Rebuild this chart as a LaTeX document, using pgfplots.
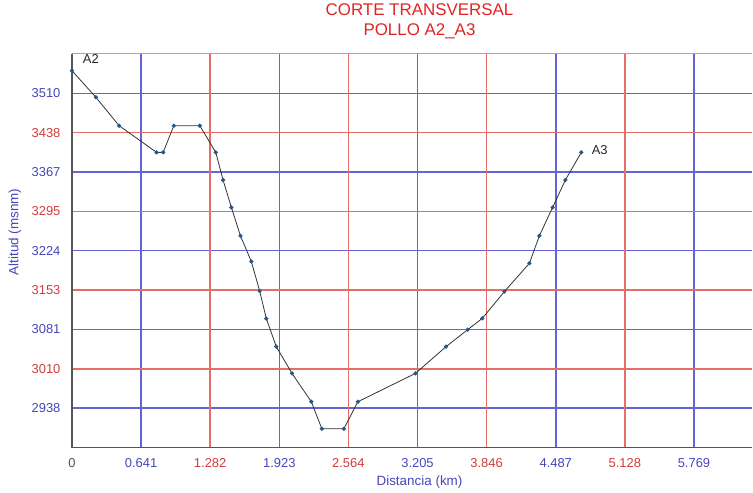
\documentclass[border=0pt]{standalone}
\usepackage{pgfplots}
\pgfplotsset{compat=1.18}
\usepackage{fontspec}
\setmainfont{Liberation Sans}
\definecolor{gblue}{RGB}{100,100,215}
\definecolor{gred}{RGB}{228,110,105}
\definecolor{tblue}{RGB}{70,70,185}
\definecolor{tred}{RGB}{210,60,60}
\definecolor{titred}{RGB}{225,35,35}
\definecolor{axgray}{RGB}{85,85,85}
\definecolor{mk}{RGB}{40,85,135}
\begin{document}
\begin{tikzpicture}
\begin{axis}[
  scale only axis, width=681bp, height=394bp,
  xmin=0, xmax=6.308, ymin=2866.6, ymax=3582.2,
  axis line style={draw=none},
  major tick length=0pt,
  tick style={draw=none},
  xmajorgrids, ymajorgrids,
  x grid style={gblue, line width=1.5bp},
  y grid style={gblue, line width=1.5bp},
  /pgf/number format/assume math mode=true,
  tick label style={font=\fontsize{13}{15}\selectfont},
  xtick={0.641,1.923,3.205,4.487,5.769},
  xticklabels={0.641,1.923,3.205,4.487,5.769},
  xticklabel style={text=tblue, yshift=-7bp},
  extra x ticks={1.282,2.564,3.846,5.128},
  extra x tick labels={1.282,2.564,3.846,5.128},
  extra x tick style={x grid style={gred, line width=1.5bp}, xticklabel style={text=tred}},
  ytick={2938.16,3081.28,3224.4,3367.52,3510.64},
  yticklabels={2938,3081,3224,3367,3510},
  yticklabel style={text=tblue, xshift=-8bp},
  extra y ticks={3009.72,3152.84,3295.96,3439.08},
  extra y tick labels={3010,3153,3295,3438},
  extra y tick style={y grid style={gred, line width=1.5bp}, yticklabel style={text=tred}},
  xlabel={Distancia (km)},
  ylabel={Altitud (msnm)},
  label style={font=\fontsize{13.5}{15}\selectfont, text=tblue},
  xlabel style={at={(axis description cs:0.511,-0.089)}, anchor=center},
  ylabel style={at={(axis description cs:-0.084,0.548)}, anchor=center},
  title={CORTE TRANSVERSAL\\POLLO A2\_A3},
  title style={at={(axis description cs:0.511,1.068)}, anchor=center, align=center,
    font=\fontsize{17}{20}\selectfont, text=titred},
  clip=false,
]
\draw[gray!70, line width=1bp] (rel axis cs:0,1) -- (rel axis cs:1,1);
\draw[axgray, line width=1.8bp] (rel axis cs:0,1) -- (rel axis cs:0,0) -- (rel axis cs:1,0);
\addplot[black!80, line width=0.8bp, mark=*, mark size=1.7bp,
  mark options={fill=mk, draw=mk}] coordinates {
(0.000,3551.8) (0.222,3503.4) (0.438,3451.7) (0.785,3403.2) (0.846,3403.2)
(0.945,3451.7) (1.186,3451.7) (1.334,3403.2) (1.402,3352.8) (1.479,3303.1)
(1.563,3251.4) (1.664,3204.7) (1.741,3151.2) (1.803,3100.9) (1.895,3050.0)
(2.041,3001.3) (2.220,2949.8) (2.318,2900.6) (2.522,2900.6) (2.652,2949.8)
(3.186,3001.3) (3.470,3050.0) (3.671,3080.9) (3.806,3101.4) (4.011,3150.1)
(4.243,3201.6) (4.335,3251.4) (4.458,3303.1) (4.576,3352.8) (4.724,3403.2)
};
\node[font=\fontsize{13}{15}\selectfont, text=black!85, anchor=center] at (axis cs:0,3551.8) [xshift=19bp, yshift=12bp] {A2};
\node[font=\fontsize{13}{15}\selectfont, text=black!85, anchor=west] at (axis cs:4.724,3403.2) [xshift=7bp, yshift=2bp] {A3};
\node[font=\fontsize{13}{15}\selectfont, text=axgray] at (axis cs:0,2866.6) [yshift=-16bp] {0};
\end{axis}
\path[use as bounding box] (-72bp,-41bp) rectangle (681bp,448bp);
\end{tikzpicture}
\end{document}
